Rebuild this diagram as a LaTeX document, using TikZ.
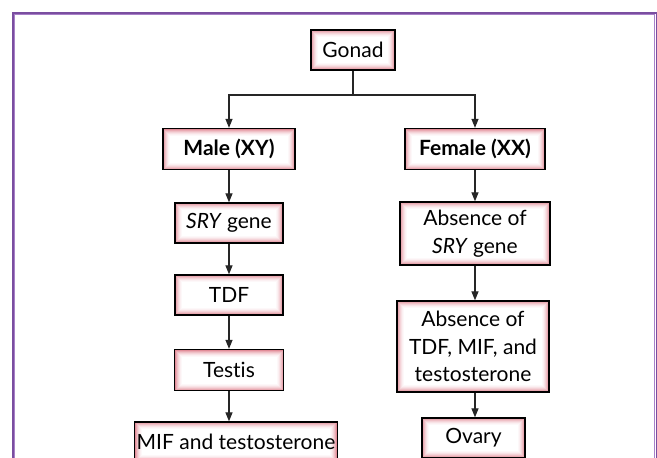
\documentclass[tikz,border=0pt]{standalone}
\usepackage{fontspec}
\setmainfont{Lato}[Ligatures=NoCommon]
\usetikzlibrary{arrows.meta}
\definecolor{frameD}{RGB}{122,78,160}
\definecolor{frameL}{RGB}{168,128,200}
\definecolor{pinkE}{RGB}{226,140,152}
\tikzset{
  box/.style={draw=black, line width=1.3pt, inner sep=2pt, align=center,
    font=\fontsize{21}{27.5}\selectfont,
    path picture={
      \fill[pinkE] (path picture bounding box.north west) rectangle (path picture bounding box.south east);
      \foreach \i/\c in {1/75,2/55,3/38,4/24,5/13,6/6,7/0}{
        \fill[pinkE!\c!white] ([shift={(\i pt,-\i pt)}]path picture bounding box.north west) rectangle ([shift={(-\i pt,\i pt)}]path picture bounding box.south east);
      }
    }},
  conn/.style={line width=1.2pt, draw=black!85},
  arr/.style={conn, -{Triangle[length=9pt,width=7pt]}}
}
\begin{document}
\begin{tikzpicture}[x=1pt,y=-1pt]
\useasboundingbox (0,0) rectangle (657,458);
\clip (0,0) rectangle (657,458);
\fill[white] (0,0) rectangle (657,458);
\draw[frameD, line width=2pt] (13,13) rectangle (656.5,470);
\draw[frameL, line width=1pt] (14.8,14.8) rectangle (654.7,470);

\node[box, minimum width=84pt, minimum height=40pt] (gonad) at (353,50) {Gonad};
\node[box, minimum width=132pt, minimum height=41pt, font=\fontsize{21}{27.5}\selectfont\bfseries] (male) at (229,149) {Male (XY)};
\node[box, minimum width=140pt, minimum height=41pt, font=\fontsize{21}{27.5}\selectfont\bfseries] (female) at (475,149) {Female (XX)};
\node[box, minimum width=108pt, minimum height=40pt] (sry) at (229,223) {\textit{SRY} gene};
\node[box, minimum width=108pt, minimum height=40pt] (tdf) at (229,295) {TDF};
\node[box, minimum width=109pt, minimum height=41pt] (testis) at (229,370) {Testis};
\node[box, minimum width=198pt, minimum height=40pt] (mif) at (236,442) {MIF and testosterone};
\node[box, minimum width=150pt, minimum height=63pt] (abssry) at (475,233.5) {Absence of\\\textit{SRY} gene};
\node[box, minimum width=152pt, minimum height=91pt] (abstdf) at (473,346.5) {Absence of\\TDF, MIF, and\\testosterone};
\node[box, minimum width=103pt, minimum height=40pt] (ovary) at (473.5,438) {Ovary};

\coordinate (split) at (353,95);
\draw[conn] (gonad.south) -- (split);
\draw[arr] (split) -| (male.north);
\draw[arr] (split) -| (female.north);
\draw[arr] (male.south) -- (sry.north);
\draw[arr] (sry.south) -- (tdf.north);
\draw[arr] (tdf.south) -- (testis.north);
\draw[arr] (testis.south) -- (testis.south |- mif.north);
\draw[arr] (female.south) -- (female.south |- abssry.north);
\draw[arr] (abssry.south) -- (abssry.south |- abstdf.north);
\draw[arr] (abssry.south |- abstdf.south) -- (abssry.south |- ovary.north);
\end{tikzpicture}
\end{document}
